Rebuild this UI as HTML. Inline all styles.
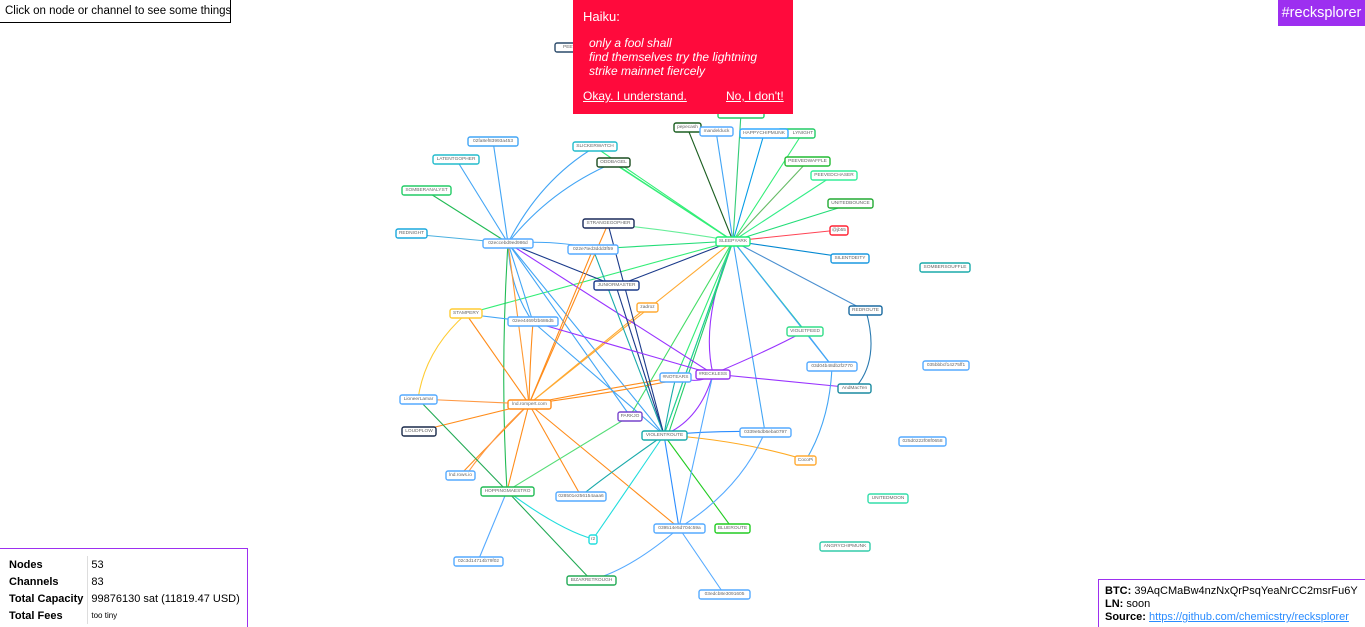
<!DOCTYPE html>
<html><head><meta charset="utf-8"><style>
html,body{margin:0;padding:0;width:1365px;height:627px;overflow:hidden;background:#fff;font-family:"Liberation Sans",sans-serif;position:relative}
#tl{position:absolute;left:0;top:0;width:225px;height:22px;border-right:1px solid #000;border-bottom:1px solid #000;font-size:11.5px;line-height:22px;padding-left:5px;color:#000;white-space:nowrap;overflow:hidden}
#tr{position:absolute;right:0;top:0;width:87px;height:26px;background:#9d2ff0;color:#fff;font-size:14.5px;line-height:26px;text-align:center;white-space:nowrap}
#haiku{position:absolute;left:573px;top:0;width:220px;height:114px;background:#ff0a3c;color:#fff;white-space:nowrap}
#haiku .h{position:absolute;left:10px;top:9px;font-size:13px}
#haiku .p{position:absolute;left:16px;top:36px;font-size:12px;font-style:italic;line-height:14px}
#haiku .a{position:absolute;top:89px;font-size:12px;text-decoration:underline}
#stats{position:absolute;left:0;top:548px;width:247px;height:79px;border-top:1px solid #9d2ff0;border-right:1px solid #9d2ff0}
#stats table{border-collapse:collapse;margin:7px 0 0 6px;font-size:11px}
#stats td{padding:0 3px;height:17px;white-space:nowrap}
#stats td.k{font-weight:bold;border-right:1px solid #ddd;padding-right:4px}
#br{position:absolute;left:1098px;top:579px;width:267px;height:48px;border-top:1px solid #9d2ff0;border-left:1px solid #9d2ff0;font-size:11px;line-height:13px;padding:5px 0 0 6px;box-sizing:border-box;white-space:nowrap}
#br a{color:#2a8cff;text-decoration:underline}
svg text{font-family:"Liberation Sans",sans-serif;font-size:4.8px;fill:#666;text-anchor:middle;dominant-baseline:central}
</style></head><body>
<svg width="1365" height="627" style="position:absolute;left:0;top:0">
<g fill="none" stroke-width="1.1">
<path d="M733 241 L687 127" stroke="#1b5e20"/>
<path d="M733 241 L716 131" stroke="#42a5f5"/>
<path d="M733 241 L764 134" stroke="#039be5"/>
<path d="M733 241 L741 113" stroke="#33cc77"/>
<path d="M733 241 L802 134" stroke="#33ee77"/>
<path d="M733 241 L807 162" stroke="#66bb66"/>
<path d="M733 241 L834 175" stroke="#33ee88"/>
<path d="M733 241 L851 204" stroke="#22dd77"/>
<path d="M733 241 L839 230" stroke="#ff4455"/>
<path d="M733 241 L850 258" stroke="#0288d1"/>
<path d="M733 241 L866 311" stroke="#4a8fd0"/>
<path d="M733 241 L805 331" stroke="#22dd88"/>
<path d="M733 241 L832 366" stroke="#42a5f5"/>
<path d="M733 241 L613 163" stroke="#33ee77"/>
<path d="M733 241 L617 165" stroke="#33ee77"/>
<path d="M733 241 L595 147" stroke="#33ee77"/>
<path d="M733 241 Q670 230 608 224" stroke="#66ee99"/>
<path d="M733 241 L593 249" stroke="#22dd77"/>
<path d="M733 241 L616 286" stroke="#1a3a8a"/>
<path d="M733 241 L466 314" stroke="#33ee77"/>
<path d="M733 241 L529 404" stroke="#ffaa33"/>
<path d="M733 241 Q700 320 713 374" stroke="#9933ff"/>
<path d="M733 241 L664 435" stroke="#33ee77"/>
<path d="M733 241 L668 435" stroke="#22cc66"/>
<path d="M733 241 L676 377" stroke="#33ee77"/>
<path d="M733 241 L630 416" stroke="#44dd66"/>
<path d="M733 241 L765 432" stroke="#42a5f5"/>
<path d="M733 241 L664 435" stroke="#22cc99"/>
<path d="M508 243 L493 141" stroke="#42a5f5"/>
<path d="M508 243 L456 159" stroke="#42a5f5"/>
<path d="M508 243 L426 191" stroke="#22bb55"/>
<path d="M508 243 L411 234" stroke="#4ab0e0"/>
<path d="M508 243 Q540 180 595 147" stroke="#42a5f5"/>
<path d="M508 243 Q550 190 613 163" stroke="#42a5f5"/>
<path d="M508 243 Q560 240 593 249" stroke="#42a5f5"/>
<path d="M508 243 L616 286" stroke="#1a3a8a"/>
<path d="M508 243 L713 374" stroke="#9933ff"/>
<path d="M508 243 L533 322" stroke="#42a5f5"/>
<path d="M508 243 Q510 290 533 322" stroke="#42a5f5"/>
<path d="M508 243 L664 435" stroke="#42a5f5"/>
<path d="M508 243 L529 404" stroke="#ff9933"/>
<path d="M508 243 Q500 370 507 491" stroke="#22bb55"/>
<path d="M508 243 L630 416" stroke="#42a5f5"/>
<path d="M529 404 L466 314" stroke="#ff8c1a"/>
<path d="M529 404 Q530 360 533 322" stroke="#ff8c1a"/>
<path d="M529 404 L593 249" stroke="#ff8c1a"/>
<path d="M529 404 L608 224" stroke="#ff8c1a"/>
<path d="M529 404 L647 307" stroke="#ffaa33"/>
<path d="M529 404 Q600 390 676 377" stroke="#ff8c1a"/>
<path d="M529 404 Q600 395 676 380" stroke="#ff8c1a"/>
<path d="M529 404 L418 399" stroke="#ff9944"/>
<path d="M529 404 L419 431" stroke="#ff8c1a"/>
<path d="M529 404 L460 475" stroke="#ff8c1a"/>
<path d="M529 404 Q490 440 464 478" stroke="#ff9944"/>
<path d="M529 404 L507 491" stroke="#ff8c1a"/>
<path d="M529 404 L581 496" stroke="#ff8c1a"/>
<path d="M529 404 L679 528" stroke="#ff8c1a"/>
<path d="M466 314 Q425 350 418 399" stroke="#ffcc33"/>
<path d="M466 314 L533 322" stroke="#42a5f5"/>
<path d="M418 399 L507 491" stroke="#22aa55"/>
<path d="M507 491 L630 416" stroke="#55dd77"/>
<path d="M507 491 Q560 530 593 539" stroke="#22dddd"/>
<path d="M507 491 L591 580" stroke="#22aa55"/>
<path d="M507 491 L478 561" stroke="#55aaff"/>
<path d="M664 435 L616 286" stroke="#1a3a8a"/>
<path d="M664 435 L593 249" stroke="#1aaaaa"/>
<path d="M664 435 L608 224" stroke="#1a3a8a"/>
<path d="M664 435 L533 322" stroke="#42a5f5"/>
<path d="M664 435 Q700 420 713 374" stroke="#9933ff"/>
<path d="M664 435 Q670 400 676 377" stroke="#1aaaaa"/>
<path d="M664 435 Q720 430 765 432" stroke="#2a8cff"/>
<path d="M664 435 Q740 440 806 460" stroke="#ffaa22"/>
<path d="M664 435 Q600 480 581 496" stroke="#1aaaaa"/>
<path d="M664 435 Q620 500 593 539" stroke="#22dddd"/>
<path d="M664 435 L679 528" stroke="#2a8cff"/>
<path d="M664 435 L732 528" stroke="#22cc22"/>
<path d="M713 374 L533 322" stroke="#9933ff"/>
<path d="M713 374 Q770 350 805 331" stroke="#9933ff"/>
<path d="M713 374 L855 388" stroke="#9933ff"/>
<path d="M713 374 L679 528" stroke="#55aaff"/>
<path d="M713 374 Q700 385 676 377" stroke="#9933ff"/>
<path d="M866 311 Q880 360 855 388" stroke="#2a7ab0"/>
<path d="M832 366 Q830 420 806 460" stroke="#42a5f5"/>
<path d="M679 528 Q630 570 591 580" stroke="#55aaff"/>
<path d="M679 528 L724 594" stroke="#55aaff"/>
<path d="M679 528 Q740 490 765 432" stroke="#55aaff"/>
<path d="M805 331 L832 366" stroke="#42a5f5"/>
</g>
<g stroke-width="1.4" fill="#fff">
<rect x="555" y="43" width="32" height="9" rx="2" stroke="#2a4a6a"/><text x="571" y="47.5">PEEVE</text>
<rect x="468" y="137" width="50" height="9" rx="2" stroke="#42a5f5"/><text x="493" y="141.5">02fa8ef83993a453</text>
<rect x="433" y="155" width="46" height="9" rx="2" stroke="#22bbcc"/><text x="456" y="159.5">LATENTGOPHER</text>
<rect x="573" y="142" width="44" height="9" rx="2" stroke="#22bbcc"/><text x="595" y="146.5">SLICKERWATCH</text>
<rect x="597" y="158" width="33" height="9" rx="2" stroke="#1b4d20"/><text x="613.5" y="162.5">ODDBAGEL</text>
<rect x="402" y="186" width="49" height="9" rx="2" stroke="#22cc66"/><text x="426.5" y="190.5">SOMBERANALYST</text>
<rect x="396" y="229" width="31" height="9" rx="2" stroke="#1aa8dd"/><text x="411.5" y="233.5">REDNIGHT</text>
<rect x="483" y="239" width="50" height="9" rx="2" stroke="#55aaff"/><text x="508" y="243.5">02eccebd9ed986d</text>
<rect x="583" y="219" width="51" height="9" rx="2" stroke="#1a2a5a"/><text x="608.5" y="223.5">STRANGEGOPHER</text>
<rect x="568" y="245" width="50" height="9" rx="2" stroke="#55aaff"/><text x="593" y="249.5">022e7ted3ddd3f59</text>
<rect x="594" y="281" width="45" height="9" rx="2" stroke="#1a3a8a"/><text x="616.5" y="285.5">JUNIORMASTER</text>
<rect x="637" y="303" width="21" height="9" rx="2" stroke="#ffaa33"/><text x="647.5" y="307.5">zadroz</text>
<rect x="450" y="309" width="32" height="9" rx="2" stroke="#ffcc33"/><text x="466" y="313.5">STAMPERY</text>
<rect x="508" y="317" width="50" height="9" rx="2" stroke="#55aaff"/><text x="533" y="321.5">02ee4469f2b686d5</text>
<rect x="716" y="237" width="34" height="9" rx="2" stroke="#22ee77"/><text x="733" y="241.5">SLEEPYARK</text>
<rect x="718" y="109" width="46" height="9" rx="2" stroke="#22cc66"/>
<rect x="674" y="123" width="27" height="9" rx="2" stroke="#1b5e20"/><text x="687.5" y="127.5">pepecash</text>
<rect x="700" y="127" width="33" height="9" rx="2" stroke="#55aaff"/><text x="716.5" y="131.5">mandelduck</text>
<rect x="778" y="129" width="37" height="9" rx="2" stroke="#22cc66"/><text x="803" y="133.5">LYNIGHT</text>
<rect x="740" y="129" width="48" height="9" rx="2" stroke="#33aaff"/><text x="764" y="133.5">HAPPYCHIPMUNK</text>
<rect x="785" y="157" width="45" height="9" rx="2" stroke="#22bb33"/><text x="807.5" y="161.5">PEEVEDWAFFLE</text>
<rect x="811" y="171" width="46" height="9" rx="2" stroke="#33ee99"/><text x="834" y="175.5">PEEVEDCHASER</text>
<rect x="828" y="199" width="45" height="9" rx="2" stroke="#22aa33"/><text x="850.5" y="203.5">UNITEDBOUNCE</text>
<rect x="830" y="226" width="18" height="9" rx="2" stroke="#ff2233"/><text x="839" y="230.5">@jb55</text>
<rect x="831" y="254" width="38" height="9" rx="2" stroke="#1a99e0"/><text x="850" y="258.5">SILENTDEITY</text>
<rect x="920" y="263" width="50" height="9" rx="2" stroke="#1aaaaa"/><text x="945" y="267.5">SOMBERSOUFFLE</text>
<rect x="849" y="306" width="33" height="9" rx="2" stroke="#1a6aa0"/><text x="865.5" y="310.5">REDROUTE</text>
<rect x="787" y="327" width="36" height="9" rx="2" stroke="#33dd88"/><text x="805" y="331.5">VIOLETFEED</text>
<rect x="807" y="362" width="50" height="9" rx="2" stroke="#55aaff"/><text x="832" y="366.5">03d04b48db2f2770</text>
<rect x="838" y="384" width="33" height="9" rx="2" stroke="#1a8aa0"/><text x="854.5" y="388.5">AndMacTen</text>
<rect x="923" y="361" width="46" height="9" rx="2" stroke="#55aaff"/><text x="946" y="365.5">035bbbcf14275ff1</text>
<rect x="696" y="370" width="34" height="9" rx="2" stroke="#9933ee"/><text x="713" y="374.5">#RECKLESS</text>
<rect x="660" y="373" width="31" height="9" rx="2" stroke="#55aaff"/><text x="675.5" y="377.5">#NOTEARS</text>
<rect x="618" y="412" width="24" height="9" rx="2" stroke="#7744cc"/><text x="630" y="416.5">PARKJO</text>
<rect x="642" y="431" width="45" height="9" rx="2" stroke="#1aaaaa"/><text x="664.5" y="435.5">VIOLENTROUTE</text>
<rect x="740" y="428" width="51" height="9" rx="2" stroke="#55aaff"/><text x="765.5" y="432.5">0339e5db6eba0797</text>
<rect x="795" y="456" width="21" height="9" rx="2" stroke="#ffaa33"/><text x="805.5" y="460.5">CocoPi</text>
<rect x="899" y="437" width="47" height="9" rx="2" stroke="#55aaff"/><text x="922.5" y="441.5">025d0222f08f0658</text>
<rect x="400" y="395" width="37" height="9" rx="2" stroke="#55aaff"/><text x="418.5" y="399.5">LioneerLamar</text>
<rect x="508" y="400" width="43" height="9" rx="2" stroke="#ff8c1a"/><text x="529.5" y="404.5">lnd.rompert.com</text>
<rect x="402" y="427" width="34" height="9" rx="2" stroke="#1a2a4a"/><text x="419" y="431.5">LOUDPLOW</text>
<rect x="446" y="471" width="29" height="9" rx="2" stroke="#55aaff"/><text x="460.5" y="475.5">lnd.rows.io</text>
<rect x="481" y="487" width="53" height="9" rx="2" stroke="#22bb55"/><text x="507.5" y="491.5">HOPPINGMAESTRO</text>
<rect x="556" y="492" width="50" height="9" rx="2" stroke="#55aaff"/><text x="581" y="496.5">028501e256154aaa6</text>
<rect x="589" y="535" width="8" height="9" rx="2" stroke="#22dddd"/><text x="593" y="539.5">r2</text>
<rect x="454" y="557" width="49" height="9" rx="2" stroke="#55aaff"/><text x="478.5" y="561.5">02c3d14714b79f02</text>
<rect x="567" y="576" width="49" height="9" rx="2" stroke="#22aa55"/><text x="591.5" y="580.5">BIZARRETROUGH</text>
<rect x="654" y="524" width="51" height="9" rx="2" stroke="#55aaff"/><text x="679.5" y="528.5">039514e5d704c59a</text>
<rect x="715" y="524" width="35" height="9" rx="2" stroke="#22cc22"/><text x="732.5" y="528.5">BLUEROUTE</text>
<rect x="699" y="590" width="51" height="9" rx="2" stroke="#55aaff"/><text x="724.5" y="594.5">03edcb8e3091605</text>
<rect x="868" y="494" width="40" height="9" rx="2" stroke="#33ddaa"/><text x="888" y="498.5">UNITEDMOON</text>
<rect x="820" y="542" width="50" height="9" rx="2" stroke="#33ccaa"/><text x="845" y="546.5">ANGRYCHIPMUNK</text>
</g>
</svg>
<div id="tl">Click on node or channel to see some things</div>
<div id="tr">#recksplorer</div>
<div id="haiku"><div class="h">Haiku:</div><div class="p">only a fool shall<br>find themselves try the lightning<br>strike mainnet fiercely</div><div class="a" style="left:10px">Okay. I understand.</div><div class="a" style="left:153px">No, I don't!</div></div>
<div id="stats"><table>
<tr><td class="k">Nodes</td><td>53</td></tr>
<tr><td class="k">Channels</td><td>83</td></tr>
<tr><td class="k">Total Capacity</td><td>99876130 sat (11819.47 USD)</td></tr>
<tr><td class="k">Total Fees</td><td style="font-size:8px">too tiny</td></tr>
</table></div>
<div id="br"><b>BTC:</b> 39AqCMaBw4nzNxQrPsqYeaNrCC2msrFu6Y<br><b>LN:</b> soon<br><b>Source:</b> <a>https://github.com/chemicstry/recksplorer</a></div>
</body></html>
